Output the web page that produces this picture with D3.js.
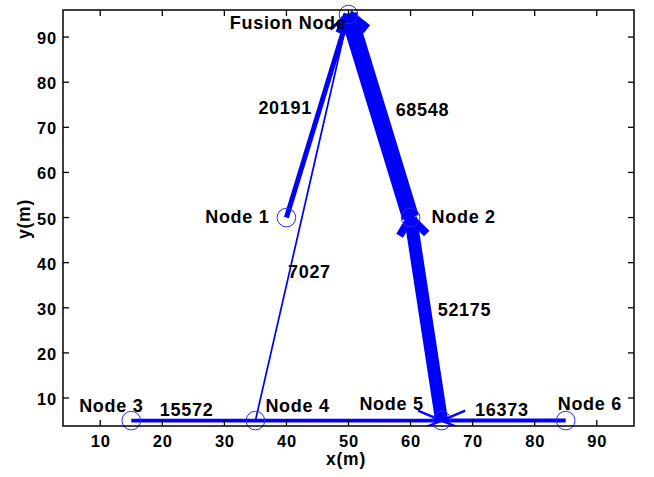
<!DOCTYPE html>
<html><head><meta charset="utf-8">
<script src="https://cdn.jsdelivr.net/npm/d3@7"></script>
<style>body{margin:0;background:#fff} svg{display:block}</style>
</head><body><svg id="c" width="654" height="477"></svg>
<script>
// ---- data ----
const nodeNames = ["Fusion Node","Node 1","Node 2","Node 3","Node 4","Node 5","Node 6"];
const nodeX = [50,40,60,15,35,65,85];
const nodeY = [95,50,50,5,5,5,5];
const flowFrom = [1,2,4,3,6,5];
const flowTo   = [0,0,0,5,5,2];
const flowValues = [20191,68548,7027,15572,16373,52175];
const xTicks = [10,20,30,40,50,60,70,80,90];
const yTicks = [10,20,30,40,50,60,70,80,90];
const xLabel = "x(m)";
const yLabel = "y(m)";

// ---- layout ----
const L=63,R=634,T=10,B=426;
const x = d3.scaleLinear().domain([4,96]).range([L,R]);
const y = d3.scaleLinear().domain([3.8,96]).range([B,T]);
const width = d3.scaleLinear().domain([0,68548]).range([0,17]);
const headLen = 4.4, headAng = 30*Math.PI/180, barbRatio = 0.6;
const BLUE = "#0000ff";
const FONT = "'Liberation Sans', Arial, Helvetica, sans-serif";

// node label placement: [anchor, dx, dy]
const nodeLabelLayout = [["end",-2,14.5],["end",-17,5],["start",21,5],["middle",-20,-8.6],["start",10,-8.6],["end",-18,-10.6],["start",-8,-10.6]];
// value label placement along flow: [t, anchor, dx, dy]
const valueLabelLayout = [[0.54,"end",-8,6],[0.53,"start",18,6],[0.366,"start",-1.5,6],[0.092,"start",0,-4.6],[0.73,"start",0,-4.6],[0.545,"start",13,6]];

const svg = d3.select("#c");
svg.append("defs").append("clipPath").attr("id","plotclip")
  .append("rect").attr("x",L).attr("y",T).attr("width",R-L).attr("height",B-T);

const gFlows = svg.append("g").attr("clip-path","url(#plotclip)");
flowValues.forEach((v,i)=>{
  const s=flowFrom[i], t=flowTo[i];
  const x0=nodeX[s], y0=nodeY[s], x1=nodeX[t], y1=nodeY[t];
  const len=Math.hypot(x1-x0,y1-y0);
  const ux=(x1-x0)/len, uy=(y1-y0)/len;
  const px=-uy, py=ux;
  const c=Math.cos(headAng), sn=Math.sin(headAng);
  const b1=[x1-headLen*(c*ux+sn*px), y1-headLen*(c*uy+sn*py)];
  const b2=[x1-headLen*(c*ux-sn*px), y1-headLen*(c*uy-sn*py)];
  const w=Math.max(width(v),1.2);
  const segs=[[[x0,y0],[x1,y1],w],[[x1,y1],b1,Math.max(w*barbRatio,1.2)],[[x1,y1],b2,Math.max(w*barbRatio,1.2)]];
  segs.forEach(sg=>{
    gFlows.append("line")
      .attr("x1",x(sg[0][0])).attr("y1",y(sg[0][1]))
      .attr("x2",x(sg[1][0])).attr("y2",y(sg[1][1]))
      .attr("stroke",BLUE).attr("stroke-width",sg[2]).attr("stroke-linecap","butt");
  });
});

// node circles
svg.append("g").selectAll("circle").data(nodeNames).join("circle")
  .attr("cx",(d,i)=>x(nodeX[i])).attr("cy",(d,i)=>y(nodeY[i])).attr("r",9.3)
  .attr("fill","none").attr("stroke","#2a2aff").attr("stroke-width",1);

// node labels
svg.append("g").selectAll("text").data(nodeNames).join("text")
  .attr("x",(d,i)=>x(nodeX[i])+nodeLabelLayout[i][1])
  .attr("y",(d,i)=>y(nodeY[i])+nodeLabelLayout[i][2])
  .attr("text-anchor",(d,i)=>nodeLabelLayout[i][0])
  .attr("font-family",FONT).attr("font-weight","bold").attr("font-size",18)
  .attr("letter-spacing",0.7).attr("fill","#000").text(d=>d);

// value labels
svg.append("g").selectAll("text").data(flowValues).join("text")
  .attr("x",(d,i)=>{const l=valueLabelLayout[i];const s=flowFrom[i],t=flowTo[i];
     return x(nodeX[s]+(nodeX[t]-nodeX[s])*l[0])+l[2];})
  .attr("y",(d,i)=>{const l=valueLabelLayout[i];const s=flowFrom[i],t=flowTo[i];
     return y(nodeY[s]+(nodeY[t]-nodeY[s])*l[0])+l[3];})
  .attr("text-anchor",(d,i)=>valueLabelLayout[i][1])
  .attr("font-family",FONT).attr("font-weight","bold").attr("font-size",18)
  .attr("letter-spacing",0.7).attr("fill","#000").text(d=>d);

// frame & ticks
const gAx = svg.append("g");
gAx.append("rect").attr("x",L).attr("y",T).attr("width",R-L).attr("height",B-T)
  .attr("fill","none").attr("stroke","#000").attr("stroke-width",1.5);
const tl=6;
xTicks.forEach(v=>{
  gAx.append("line").attr("x1",x(v)).attr("x2",x(v)).attr("y1",B).attr("y2",B-tl).attr("stroke","#000").attr("stroke-width",1.3);
  gAx.append("line").attr("x1",x(v)).attr("x2",x(v)).attr("y1",T).attr("y2",T+tl).attr("stroke","#000").attr("stroke-width",1.3);
});
yTicks.forEach(v=>{
  gAx.append("line").attr("x1",L).attr("x2",L+tl).attr("y1",y(v)).attr("y2",y(v)).attr("stroke","#000").attr("stroke-width",1.3);
  gAx.append("line").attr("x1",R).attr("x2",R-tl).attr("y1",y(v)).attr("y2",y(v)).attr("stroke","#000").attr("stroke-width",1.3);
});
gAx.append("g").selectAll("text").data(xTicks).join("text")
  .attr("x",d=>x(d)+0.5).attr("y",447).attr("text-anchor","middle")
  .attr("font-family",FONT).attr("font-weight","bold").attr("font-size",16.5).attr("letter-spacing",0.8)
  .text(d=>d);
gAx.append("g").selectAll("text").data(yTicks).join("text")
  .attr("x",57).attr("y",d=>y(d)+7).attr("text-anchor","end")
  .attr("font-family",FONT).attr("font-weight","bold").attr("font-size",16.5).attr("letter-spacing",0.8)
  .text(d=>d);
gAx.append("text").attr("x",346).attr("y",465).attr("text-anchor","middle")
  .attr("font-family",FONT).attr("font-weight","bold").attr("font-size",17.5).attr("letter-spacing",0.8).text(xLabel);
gAx.append("text").attr("transform","translate(30,219) rotate(-90)").attr("text-anchor","middle")
  .attr("font-family",FONT).attr("font-weight","bold").attr("font-size",17.5).attr("letter-spacing",0.8).text(yLabel);
</script></body></html>
